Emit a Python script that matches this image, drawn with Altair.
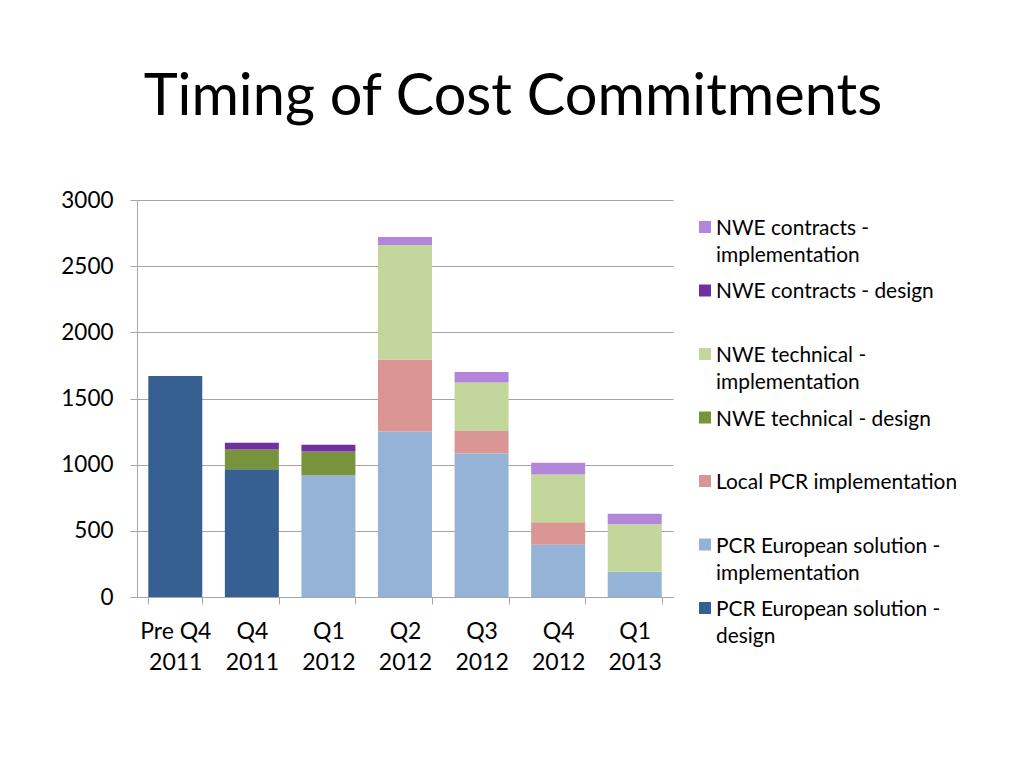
import altair as alt
import pandas as pd

# Categories (x axis), bottom-to-top stack order of series
quarters = ["Pre Q4\n2011", "Q4\n2011", "Q1\n2012", "Q2\n2012", "Q3\n2012", "Q4\n2012", "Q1\n2013"]
series_names = [
    "PCR European solution - design",
    "PCR European solution - implementation",
    "Local PCR implementation",
    "NWE technical - design",
    "NWE technical - implementation",
    "NWE contracts - design",
    "NWE contracts - implementation",
]
legend_text = [
    "PCR European solution -\ndesign",
    "PCR European solution -\nimplementation",
    "Local PCR implementation",
    "NWE technical - design",
    "NWE technical -\nimplementation",
    "NWE contracts - design",
    "NWE contracts -\nimplementation",
]

# Series values
pcr_design = [1670, 965, 0, 0, 0, 0, 0]
pcr_impl = [0, 0, 920, 1250, 1085, 395, 190]
local_pcr = [0, 0, 0, 545, 170, 170, 0]
tech_design = [0, 150, 180, 0, 0, 0, 0]
tech_impl = [0, 0, 0, 865, 365, 360, 360]
contracts_design = [0, 50, 50, 0, 0, 0, 0]
contracts_impl = [0, 0, 0, 60, 80, 90, 80]

colors = ["#376092", "#95B3D7", "#D99694", "#77933C", "#C3D69B", "#7030A0", "#B386DB"]
y_ticks = [0, 500, 1000, 1500, 2000, 2500, 3000]

all_series = [pcr_design, pcr_impl, local_pcr, tech_design, tech_impl, contracts_design, contracts_impl]
rows = []
for rank, (name, vals) in enumerate(zip(series_names, all_series)):
    for q, v in zip(quarters, vals):
        if v > 0:
            rows.append({"quarter": q, "series": name, "value": v, "rank": rank})
df = pd.DataFrame(rows)

legend_df = pd.DataFrame({"series": series_names, "label": legend_text})
legend_order = list(reversed(series_names))

FONT = "Lato"
GRID = "#A6A6A6"

color_scale = alt.Scale(domain=series_names, range=colors)

bars = alt.Chart(df).mark_bar().encode(
    x=alt.X(
        "quarter:N",
        sort=quarters,
        scale=alt.Scale(paddingInner=0.295, paddingOuter=0.1475),
        axis=alt.Axis(
            title=None,
            labelAngle=0,
            labelExpr="split(datum.label, '\\n')",
            labelLineHeight=31,
            tickBand="extent",
            tickSize=7,
            tickColor=GRID,
            domainColor=GRID,
            labelPadding=16,
            labelFontSize=23,
            labelColor="black",
            labelFont=FONT,
        ),
    ),
    y=alt.Y(
        "value:Q",
        stack="zero",
        scale=alt.Scale(domain=[0, 3000]),
        axis=alt.Axis(
            title=None,
            values=y_ticks,
            format="d",
            tickSize=7,
            tickColor=GRID,
            domainColor=GRID,
            gridColor=GRID,
            labelPadding=17,
            labelFontSize=22.5,
            labelColor="black",
            labelFont=FONT,
        ),
    ),
    color=alt.Color("series:N", scale=color_scale, legend=None),
    order=alt.Order("rank:Q", sort="ascending"),
).properties(width=536, height=397)

leg_y = alt.Y("series:N", sort=legend_order, scale=alt.Scale(type="point", padding=0.425), axis=None)
leg_sym = alt.Chart(legend_df).mark_square(size=144, opacity=1).encode(
    x=alt.value(12),
    y=leg_y,
    color=alt.Color("series:N", scale=color_scale, legend=None),
)
leg_txt = alt.Chart(legend_df).mark_text(
    align="left", baseline="alphabetic", dy=8, fontSize=20.9, lineBreak="\n",
    lineHeight=27, font=FONT, color="black",
).encode(
    x=alt.value(23),
    y=leg_y,
    text="label:N",
)
legend_panel = alt.layer(leg_sym, leg_txt).properties(width=255, height=435)

chart = alt.hconcat(bars, legend_panel, spacing=20).properties(
    title=alt.TitleParams(
        "Timing of Cost Commitments",
        fontSize=57.7, fontWeight="normal", font=FONT, color="black",
        anchor="middle", offset=62, dx=4,
    ),
    padding={"left": 52, "top": 61, "right": 5, "bottom": 5},
).resolve_scale(color="shared").configure(
    font=FONT, view=alt.ViewConfig(strokeWidth=0, stroke=None)
)

chart.save("out.html", embed_options={"renderer": "svg", "actions": False})
